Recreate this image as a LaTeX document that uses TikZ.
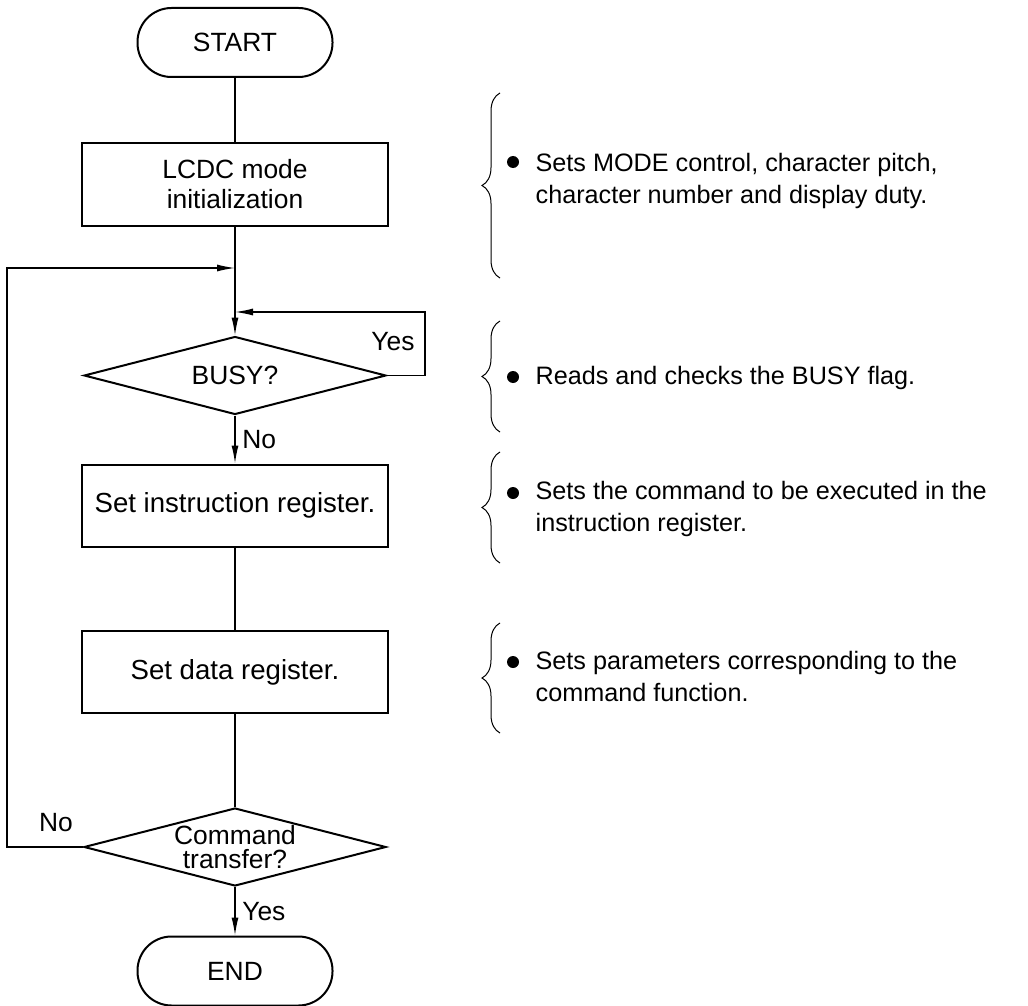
\documentclass[tikz,border=0pt]{standalone}
\usepackage{fontspec}
\setmainfont{Liberation Sans}
\usetikzlibrary{arrows.meta,shapes.geometric,decorations.pathreplacing}

\begin{document}
\begin{tikzpicture}[x=0.5pt,y=-0.5pt,>={Latex[length=9pt,width=3.5pt]},
  font=\fontsize{13.2}{15}\selectfont,line width=0.65pt,
  term/.style={draw,line width=1pt,rounded corners=17pt,minimum width=97.5pt,minimum height=34.5pt},
  proc/.style={draw,line width=1pt,minimum width=153pt,minimum height=41pt,align=center},
  decide/.style={draw,diamond,aspect=3.9,line width=1pt,minimum width=151pt,minimum height=39pt,inner sep=0pt,align=center},
  note/.style={anchor=west,align=left,inner sep=0pt,font=\fontsize{12.6}{16}\selectfont},
  brc/.style={decorate,decoration={brace,amplitude=9pt},line width=0.5pt}]
  \useasboundingbox (0,0) rectangle (1028,1006);
  \node[term] (start) at (235,42.5) {START};
  \node[proc] (init) at (235,184.5) {LCDC mode\\initialization};
  \node[decide] (busy) at (235,375.5) {BUSY?};
  \node[proc,font=\fontsize{13.8}{15}\selectfont] (instr) at (235,505.5) {Set instruction register.};
  \node[proc,font=\fontsize{13.8}{15}\selectfont] (data) at (235,672) {Set data register.};
  \node[decide] (xfer) at (235,847) {};
  \node[align=center,inner sep=0pt,font=\fontsize{13.2}{12}\selectfont] (xfertxt) at (xfer) {Command\\transfer?};
  \node[term] (end) at (235,971) {END};
  \coordinate (j1) at (235,268);
  \coordinate (j2) at (235,312);
  \coordinate (yr) at (425,312);
  \coordinate (lp) at (7,268);
  \draw (start) -- (init);
  \draw[->] (init) -- (busy);
  \draw[->] (busy.east) -| (yr) -- (j2);
  \draw[->] (xfer.west) -| (lp) -- (j1);
  \draw[->] (busy) -- node[right] {No} (instr);
  \draw (instr) -- (data);
  \draw (data) -- (xfer);
  \draw[->] (xfer) -- node[right] {Yes} (end);
  \node (yes) at (393,342) {Yes};
  \node (no) at (56,823) {No};
  \draw[brc] (500,278) -- (500,93);
  \draw[brc] (500,432) -- (500,321);
  \draw[brc] (500,563) -- (500,452);
  \draw[brc] (500,733) -- (500,623);
  \fill (513,162) circle (3pt);
  \node[note] (n1) at (535,181) {Sets MODE control, character pitch,\\character number and display duty.};
  \fill (513,377) circle (3pt);
  \node[note] (n2) at (535,378) {Reads and checks the BUSY flag.};
  \fill (513,493) circle (3pt);
  \node[note] (n3) at (535,509) {Sets the command to be executed in the\\instruction register.};
  \fill (513,662) circle (3pt);
  \node[note] (n4) at (535,676) {Sets parameters corresponding to the\\command function.};
\end{tikzpicture}
\end{document}
